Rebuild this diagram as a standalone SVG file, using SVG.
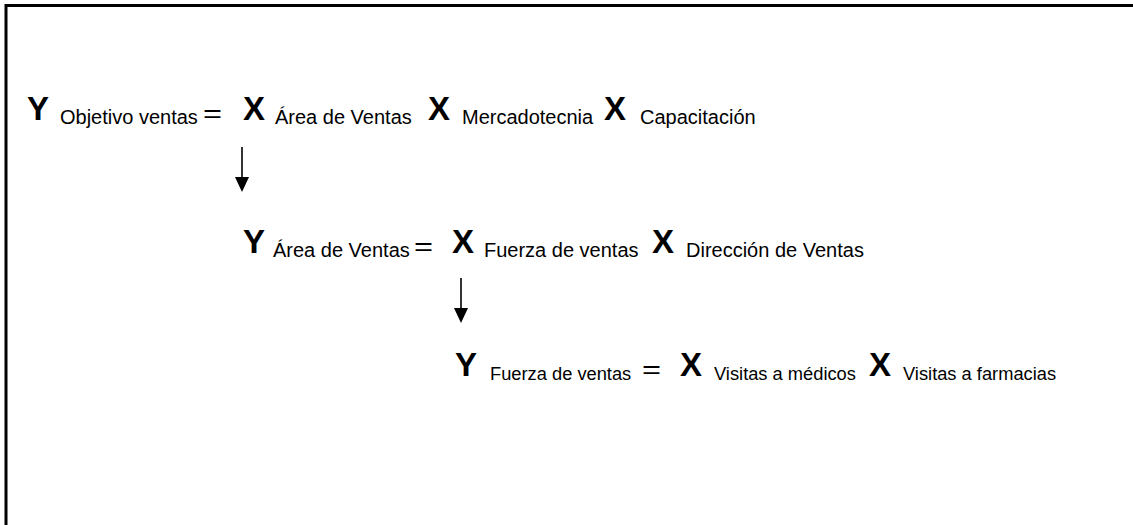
<svg xmlns="http://www.w3.org/2000/svg" width="1133" height="525" viewBox="0 0 1133 525">
<style>
.big{font-family:"Liberation Sans",Arial,sans-serif;font-size:33px;font-weight:bold;fill:#000}
.sub{font-family:"Liberation Sans",Arial,sans-serif;font-size:20px;fill:#000}
.sub3{font-family:"Liberation Sans",Arial,sans-serif;font-size:18.3px;fill:#000}
.eq{font-family:"Liberation Sans",Arial,sans-serif;font-size:26px;fill:#000}
.ln{stroke:#000;stroke-width:1.6;fill:none}
</style>
<rect x="0" y="0" width="1133" height="525" fill="#fff"/>
<path d="M6,525 V5.5 H1133" fill="none" stroke="#000" stroke-width="3"/>
<g id="eq1">
<text class="big" x="27" y="120">Y</text>
<text class="sub" x="60" y="124">Objetivo ventas</text>
<text class="eq" x="203" y="122" textLength="19" lengthAdjust="spacingAndGlyphs">=</text>
<text class="big" x="243" y="120">X</text>
<text class="sub" x="275" y="124">Área de Ventas</text>
<text class="big" x="428" y="120">X</text>
<text class="sub" x="462" y="124">Mercadotecnia</text>
<text class="big" x="604" y="120">X</text>
<text class="sub" x="640" y="124">Capacitación</text>
</g>
<g id="eq2">
<text class="big" x="243" y="253">Y</text>
<text class="sub" x="273" y="257">Área de Ventas</text>
<text class="eq" x="414" y="255" textLength="19" lengthAdjust="spacingAndGlyphs">=</text>
<text class="big" x="452" y="253">X</text>
<text class="sub" x="484" y="257">Fuerza de ventas</text>
<text class="big" x="652" y="253">X</text>
<text class="sub" x="686" y="257">Dirección de Ventas</text>
</g>
<g id="eq3">
<text class="big" x="455" y="376">Y</text>
<text class="sub3" x="490" y="380">Fuerza de ventas</text>
<text class="eq" x="642" y="378" textLength="19" lengthAdjust="spacingAndGlyphs">=</text>
<text class="big" x="680" y="376">X</text>
<text class="sub3" x="714" y="380">Visitas a médicos</text>
<text class="big" x="869" y="376">X</text>
<text class="sub3" x="903" y="380">Visitas a farmacias</text>
</g>
<g id="connectors">
<line class="ln" x1="242" y1="147" x2="242" y2="178"/>
<polygon points="235,177 249,177 242,192" fill="#000"/>
<line class="ln" x1="461" y1="278" x2="461" y2="309"/>
<polygon points="454,308 468,308 461,323" fill="#000"/>
</g>
</svg>
